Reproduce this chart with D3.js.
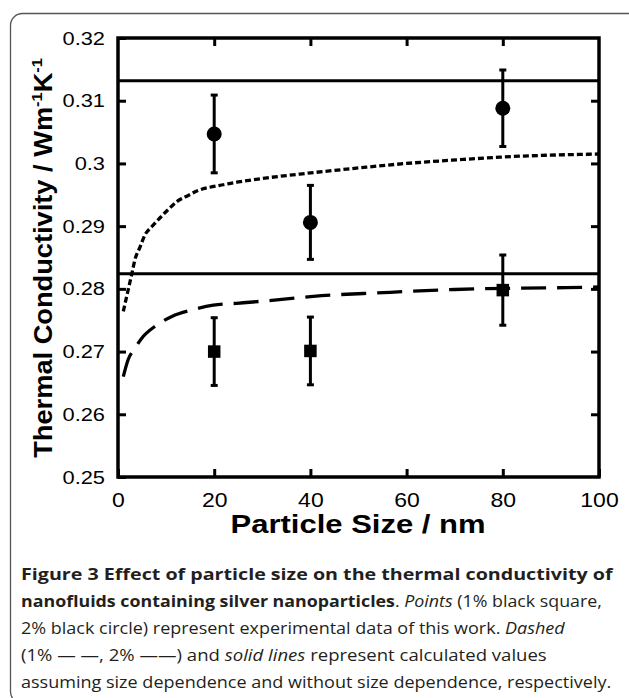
<!DOCTYPE html>
<html>
<head>
<meta charset="utf-8">
<script src="https://cdn.jsdelivr.net/npm/d3@7"></script>
<style>
  body { margin: 0; background: #fff; }
  svg { display: block; }
</style>
</head>
<body>
<svg id="chart" width="629" height="698"></svg>
<script>
// measured particle sizes (nm)
const sizes = [20, 40, 80];
// 1% loading - black squares
const k1 = [0.2700, 0.2701, 0.2798];
const err1 = [0.0054, 0.0054, 0.0056];
// 2% loading - black circles
const k2 = [0.3047, 0.2906, 0.3088];
const err2 = [0.0062, 0.0059, 0.0061];
// calculated, no size dependence (1%, 2%)
const flatK = [0.2824, 0.3132];
// calculated with size dependence
const curve1Size = [1.1, 2.1, 3.5, 4.9, 8.0, 11.2, 15.7, 19.8, 24.7, 31, 37.8, 40.6, 55.2, 70, 93.3, 100];
const curve1K = [0.2660, 0.2687, 0.2705, 0.2721, 0.2742, 0.2756, 0.2767, 0.2774, 0.2777, 0.2781, 0.2786, 0.2788, 0.2794, 0.2799, 0.2802, 0.2803];
const curve2Size = [1.1, 2.1, 2.9, 3.5, 4.6, 5.6, 7, 8.7, 10.5, 12.2, 14.6, 16.7, 19.1, 21.9, 24.7, 28.1, 31, 37.8, 50.3, 60, 71.1, 79.4, 100];
const curve2K = [0.2764, 0.2798, 0.2825, 0.2846, 0.2867, 0.2886, 0.2899, 0.2913, 0.2927, 0.2939, 0.2949, 0.2957, 0.2962, 0.2966, 0.2970, 0.2974, 0.2977, 0.2983, 0.2993, 0.3000, 0.3006, 0.3010, 0.3015];

const xTicks = [0, 20, 40, 60, 80, 100];
const yTicks = [0.25, 0.26, 0.27, 0.28, 0.29, 0.30, 0.31, 0.32];
const yTickLabels = ["0.25", "0.26", "0.27", "0.28", "0.29", "0.3", "0.31", "0.32"];

const svg = d3.select("#chart");

//outer rounded frame, runs off the right/bottom edge like the original
svg.append("rect")
    .attr("x", 10.5).attr("y", 13.5)
    .attr("width", 630).attr("height", 690)
    .attr("rx", 12)
    .attr("fill", "none")
    .attr("stroke", "#555")
    .attr("stroke-width", 1.3);

const margin = {left: 118, top: 38};
const width = 481, height = 439;

const g = svg.append("g").attr("transform", "translate(" + margin.left + "," + margin.top + ")");

const x = d3.scaleLinear().domain([0, 100]).range([0, width]);
const y = d3.scaleLinear().domain([0.25, 0.32]).range([height, 0]);

const sx = 1.15; // labels in the figure are a bit wide

g.append("clipPath").attr("id", "plotClip")
    .append("rect").attr("width", width).attr("height", height);

const plot = g.append("g").attr("clip-path", "url(#plotClip)");

//solid lines
plot.selectAll("line.flat")
    .data(flatK)
    .join("line")
    .attr("class", "flat")
    .attr("x1", 0).attr("x2", width)
    .attr("y1", d => y(d)).attr("y2", d => y(d))
    .attr("stroke", "#000")
    .attr("stroke-width", 3);

const line = d3.line()
    .x(d => x(d[0]))
    .y(d => y(d[1]))
    .curve(d3.curveMonotoneX);

//2% - short dashes
plot.append("path")
    .datum(curve2Size.map((s, i) => [s, curve2K[i]]))
    .attr("fill", "none")
    .attr("stroke", "#000")
    .attr("stroke-width", 3.3)
    .attr("stroke-dasharray", "6,3")
    .attr("d", line);

//1% - long dashes
plot.append("path")
    .datum(curve1Size.map((s, i) => [s, curve1K[i]]))
    .attr("fill", "none")
    .attr("stroke", "#000")
    .attr("stroke-width", 3.3)
    .attr("stroke-dasharray", "25,11")
    .attr("d", line);

//error bars
function errorBars(vals, errs) {
    const eb = g.append("g").attr("stroke", "#000").attr("stroke-width", 3);
    sizes.forEach((s, i) => {
        const cx = x(s), top = y(vals[i] + errs[i]), bot = y(vals[i] - errs[i]);
        eb.append("line").attr("x1", cx).attr("x2", cx).attr("y1", top).attr("y2", bot);
        eb.append("line").attr("x1", cx - 3.5).attr("x2", cx + 3.5).attr("y1", top).attr("y2", top);
        eb.append("line").attr("x1", cx - 3.5).attr("x2", cx + 3.5).attr("y1", bot).attr("y2", bot);
    });
}
errorBars(k1, err1);
errorBars(k2, err2);

g.selectAll("rect.sq")
    .data(sizes)
    .join("rect")
    .attr("class", "sq")
    .attr("x", d => x(d) - 6.25)
    .attr("y", (d, i) => y(k1[i]) - 6.25)
    .attr("width", 12.5).attr("height", 12.5)
    .attr("fill", "#000");

g.selectAll("circle.pt")
    .data(sizes)
    .join("circle")
    .attr("class", "pt")
    .attr("cx", d => x(d))
    .attr("cy", (d, i) => y(k2[i]))
    .attr("r", 7.5)
    .attr("fill", "#000");

//axes, ticks pointing inward on all 4 sides
const xAxis = g.append("g")
    .attr("transform", "translate(0," + height + ")")
    .call(d3.axisBottom(x).tickValues(xTicks).tickSizeInner(-8).tickSizeOuter(0).tickPadding(16));
const yAxis = g.append("g")
    .call(d3.axisLeft(y).tickValues(yTicks).tickFormat((d, i) => yTickLabels[i]).tickSizeInner(-8).tickSizeOuter(0).tickPadding(13));
g.append("g")
    .call(d3.axisTop(x).tickValues(xTicks.slice(1, -1)).tickFormat("").tickSizeInner(-8).tickSizeOuter(0));
g.append("g")
    .attr("transform", "translate(" + width + ",0)")
    .call(d3.axisRight(y).tickValues(yTicks.slice(1, -1)).tickFormat("").tickSizeInner(-8).tickSizeOuter(0));

g.selectAll(".domain").remove();
g.selectAll(".tick line").attr("stroke", "#000").attr("stroke-width", 3);

xAxis.selectAll("text")
    .attr("font-family", "'Liberation Sans', Arial, sans-serif")
    .attr("font-size", 20)
    .attr("fill", "#000")
    .attr("transform", "scale(" + sx + ",1)");
yAxis.selectAll("text")
    .attr("font-family", "'Liberation Sans', Arial, sans-serif")
    .attr("font-size", 19)
    .attr("fill", "#000")
    .attr("x", -13 / sx)
    .attr("transform", "scale(" + sx + ",1)");

//plot frame
g.append("rect")
    .attr("width", width).attr("height", height)
    .attr("fill", "none")
    .attr("stroke", "#000")
    .attr("stroke-width", 3.5);

//axis titles
svg.append("text")
    .attr("transform", "translate(358,533) scale(1.24,1)")
    .attr("text-anchor", "middle")
    .attr("font-family", "'Liberation Sans', Arial, sans-serif")
    .attr("font-weight", "bold")
    .attr("font-size", 25)
    .text("Particle Size / nm");

const yTitle = svg.append("text")
    .attr("transform", "translate(52,258) rotate(-90) scale(1.09,1)")
    .attr("text-anchor", "middle")
    .attr("font-family", "'Liberation Sans', Arial, sans-serif")
    .attr("font-weight", "bold")
    .attr("font-size", 25);
yTitle.append("tspan").text("Thermal Conductivity / Wm");
yTitle.append("tspan").attr("font-size", 15).attr("dy", -10).text("-1");
yTitle.append("tspan").attr("dy", 10).text("K");
yTitle.append("tspan").attr("font-size", 15).attr("dy", -10).text("-1");

//caption
const capLines = [
    [["Figure 3 Effect of particle size on the thermal conductivity of", "b"]],
    [["nanofluids containing silver nanoparticles", "b"], [". ", "n"], ["Points", "i"], [" (1% black square,", "n"]],
    [["2% black circle) represent experimental data of this work. ", "n"], ["Dashed", "i"]],
    [["(1% \u2014 \u2014, 2% \u2014\u2014) and ", "n"], ["solid lines", "i"], [" represent calculated values", "n"]],
    [["assuming size dependence and without size dependence, respectively.", "n"]]
];
const capBase = [580, 607, 634, 661, 688];
const capWidth = [592, 581, 544, 526, 591];

const cap = svg.append("g")
    .attr("font-family", "'Open Sans', 'Noto Sans', sans-serif")
    .attr("fill", "#231f20")
    .attr("font-size", 16.5);

capLines.forEach((parts, li) => {
    const t = cap.append("text").attr("x", 0).attr("y", 0);
    parts.forEach(p => {
        t.append("tspan")
            .attr("font-weight", p[1] == "b" ? "bold" : null)
            .attr("font-style", p[1] == "i" ? "italic" : null)
            .text(p[0]);
    });
    //stretch each line to the width it has in the figure
    const w = t.node().getComputedTextLength();
    t.attr("transform", "translate(21," + capBase[li] + ") scale(" + (capWidth[li] / w) + ",1)");
});
</script>
</body>
</html>
